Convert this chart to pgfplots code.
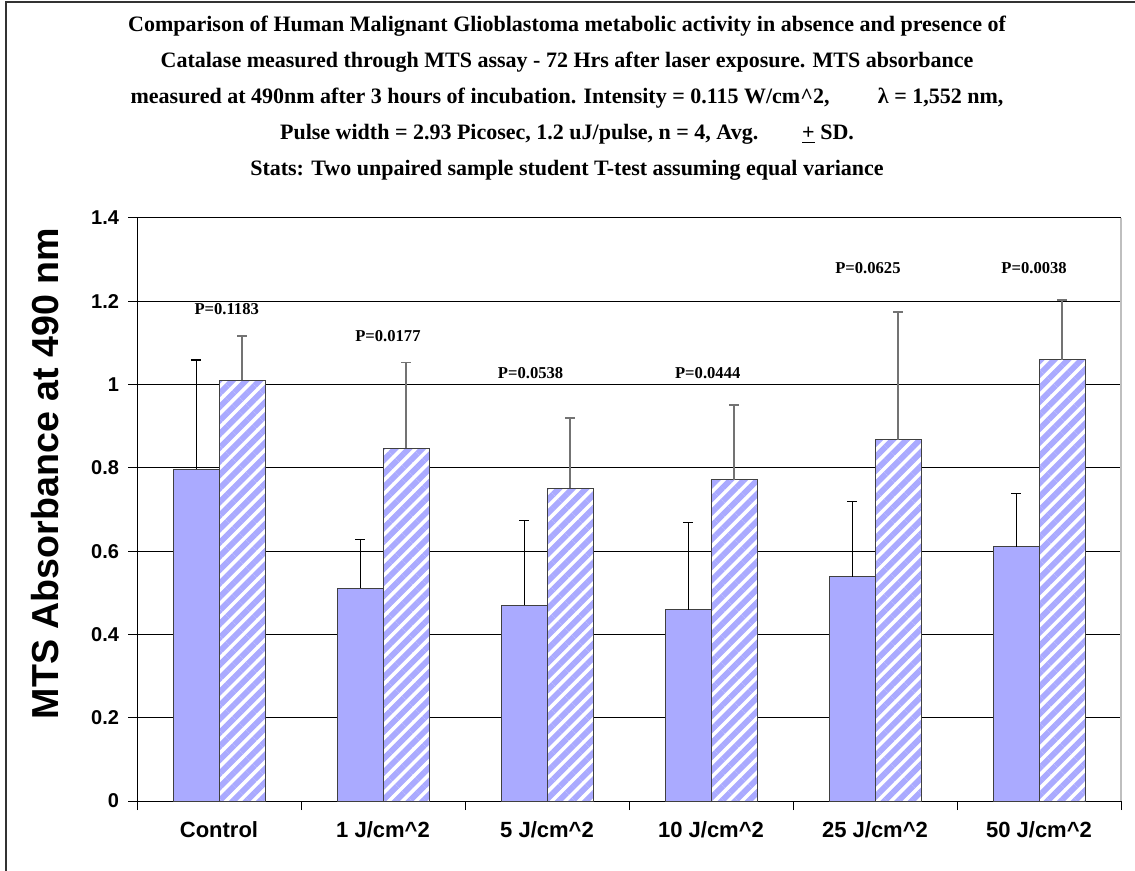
\documentclass[border=0pt]{standalone}
\usepackage{pgfplots}
\pgfplotsset{compat=1.18}
\usepackage{fontspec}
\setmainfont{Liberation Serif}
\newfontfamily\arialf{Liberation Sans}
\usetikzlibrary{patterns.meta}
\definecolor{barblue}{RGB}{170,170,255}

\pgfplotstableread{
x y e
0 0.797 0.262
1 0.511 0.117
2 0.470 0.204
3 0.459 0.209
4 0.5385 0.180
5 0.610 0.128
}\solid

\pgfplotstableread{
x y e
0 1.010 0.107
1 0.8475 0.2055
2 0.751 0.168
3 0.771 0.179
4 0.867 0.307
5 1.059 0.144
}\hatched

\begin{document}
\begin{tikzpicture}
\begin{axis}[name=ax, scale only axis, width=492bp, height=291.5bp,
  xmin=-0.5, xmax=5.5, ymin=0, ymax=1.4,
  ybar=0pt, bar width=23bp,
  axis x line*=bottom, axis y line*=left,
  axis line style={black, line width=0.5bp},
  tick align=outside,
  ytick={0,0.2,0.4,0.6,0.8,1,1.2,1.4},
  yticklabels={0,0.2,0.4,0.6,0.8,1,1.2,1.4},
  xtick={-0.5,0.5,1.5,2.5,3.5,4.5,5.5},
  xticklabels={},
  extra x ticks={0,1,2,3,4,5},
  extra x tick labels={Control,1 J/cm\textasciicircum2,5 J/cm\textasciicircum2,10 J/cm\textasciicircum2,25 J/cm\textasciicircum2,50 J/cm\textasciicircum2},
  extra x tick style={major tick length=0pt, xtick style={draw=none},
     xticklabel style={font=\arialf\bfseries\fontsize{11bp}{13bp}\selectfont, yshift=-7bp}},
  major tick length=4.5bp,
  tick style={black, line width=0.5bp},
  yticklabel style={font=\arialf\bfseries\fontsize{10bp}{12bp}\selectfont, xshift=-1bp},
  ymajorgrids, grid style={black, line width=0.5bp},
  clip=false,
]
\draw[gray!50, line width=0.7bp] (rel axis cs:1,0) -- (rel axis cs:1,1);
\addplot[fill=barblue, draw=black!75, line width=0.5bp,
  error bars/.cd, y dir=plus, y explicit,
  error bar style={black, line width=0.5bp},
  error mark options={rotate=90, black, mark size=2.5bp, line width=0.6bp}]
  table[x=x, y=y, y error=e] {\solid};
\addplot[fill=white, postaction={pattern={Lines[angle=45,distance=4.8bp,line width=2.9bp]}, pattern color=barblue},
  draw=black!75, line width=0.5bp,
  error bars/.cd, y dir=plus, y explicit,
  error bar style={black!55, line width=0.9bp},
  error mark options={rotate=90, black!55, mark size=2.5bp, line width=0.9bp}]
  table[x=x, y=y, y error=e] {\hatched};
\begin{scope}[every node/.style={font=\bfseries\fontsize{8.3bp}{10bp}\selectfont}]
\node at (axis cs:0.047,1.181) {P=0.1183};
\node at (axis cs:1.03,1.116) {P=0.0177};
\node at (axis cs:1.90,1.028) {P=0.0538};
\node at (axis cs:2.98,1.028) {P=0.0444};
\node at (axis cs:3.957,1.280) {P=0.0625};
\node at (axis cs:4.97,1.280) {P=0.0038};
\end{scope}
\end{axis}
\node[font=\bfseries\fontsize{11bp}{18bp}\selectfont, align=center] at ([xshift=-31bp,yshift=60bp]ax.north)
 {Comparison of Human Malignant Glioblastoma metabolic activity in absence and presence of\\
  Catalase measured through MTS assay - 72 Hrs after laser exposure. MTS absorbance\\
  measured at 490nm after 3 hours of incubation. Intensity = 0.115 W/cm\textasciicircum2,\hspace{2.2em}λ = 1,552 nm,\\
  Pulse width = 2.93 Picosec, 1.2 uJ/pulse, n = 4, Avg.\hspace{2em}\underline{+} SD.\\
  Stats: Two unpaired sample student T-test assuming equal variance};
\node[rotate=90, font=\arialf\bfseries\fontsize{18.8bp}{22bp}\selectfont] at ([xshift=-46bp,yshift=18bp]ax.west) {MTS Absorbance at 490 nm};
\coordinate (BL) at ([xshift=-68.5bp,yshift=-35bp]ax.south west);
\coordinate (TR) at ([xshift=7bp,yshift=109bp]ax.north east);
\draw[black!80, line width=0.8bp] ([xshift=3bp]BL) |- ([yshift=-1bp]TR);
\pgfresetboundingbox
\path (BL) rectangle (TR);
\end{tikzpicture}
\end{document}
